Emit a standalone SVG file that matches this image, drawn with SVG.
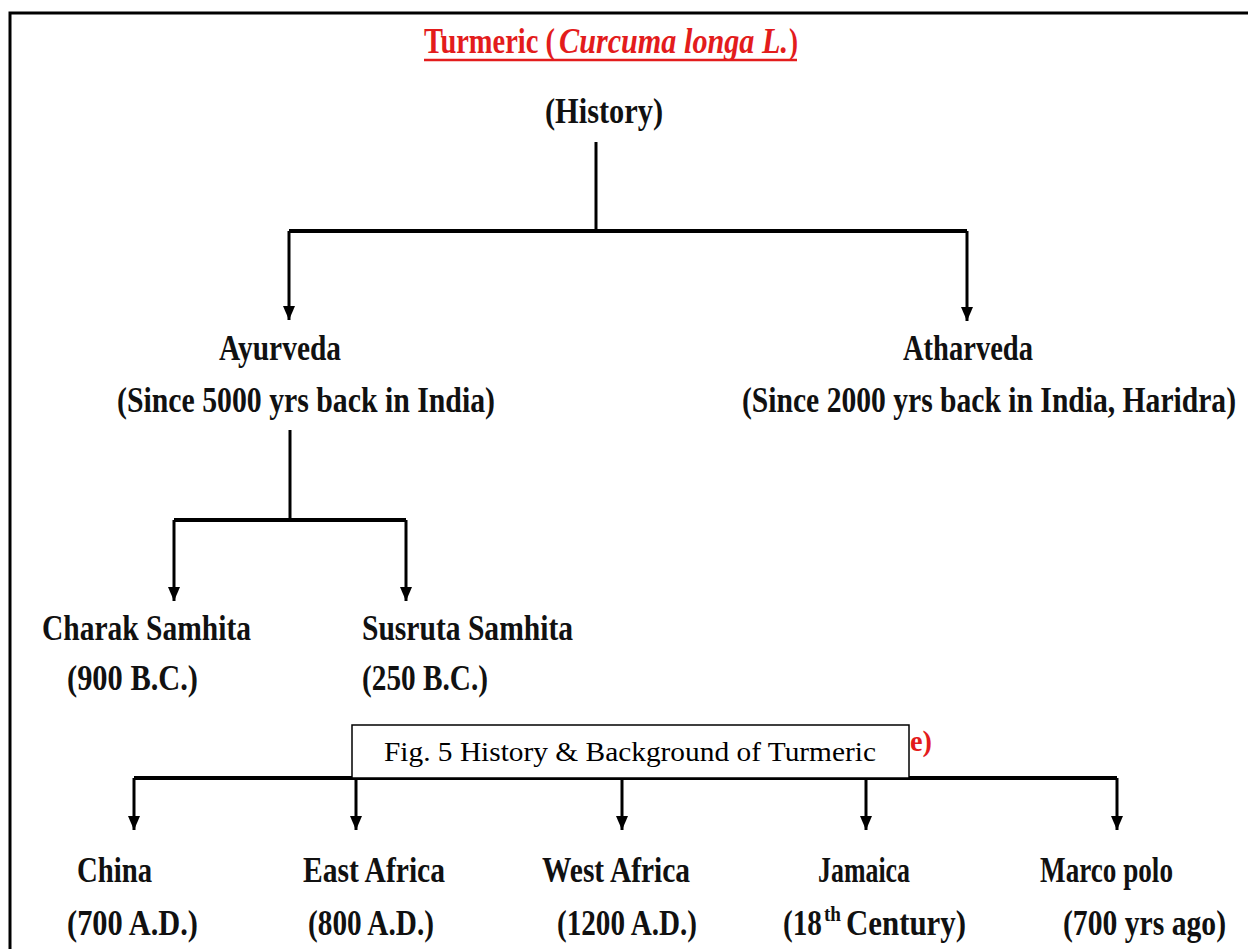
<svg xmlns="http://www.w3.org/2000/svg" width="1248" height="949" viewBox="0 0 1248 949">
<style>
.t{font-family:"Liberation Serif","Times New Roman",serif;font-weight:bold;fill:#111;}
.red{fill:#e31c1c;}
.ln{stroke:#000;stroke-width:3;fill:none;}
.hz{stroke:#000;stroke-width:4;fill:none;}
.cap{font-family:"Liberation Serif","Times New Roman",serif;font-size:27px;fill:#000;}
</style>
<defs>
<marker id="ah" markerUnits="userSpaceOnUse" markerWidth="16" markerHeight="12" refX="14" refY="6" orient="auto">
<path d="M0,0 L14,6 L0,12 z" fill="#000"/>
</marker>
</defs>
<rect width="1248" height="949" fill="#fff"/>
<path d="M10,949 V13 H1248" stroke="#000" stroke-width="3" fill="none"/>

<g id="title">
<text class="t red" x="424" y="53" font-size="35" textLength="131" lengthAdjust="spacingAndGlyphs">Turmeric (</text>
<text class="t red" x="559" y="53" font-size="35" font-style="italic" textLength="229" lengthAdjust="spacingAndGlyphs">Curcuma longa L.</text>
<text class="t red" x="789" y="53" font-size="35" textLength="9" lengthAdjust="spacingAndGlyphs">)</text>
<line x1="424" y1="60" x2="797" y2="60" stroke="#e31c1c" stroke-width="2.5"/>
</g>
<g id="history"><text class="t" x="545" y="123" font-size="35" textLength="118" lengthAdjust="spacingAndGlyphs">(History)</text></g>

<g id="ayurveda">
<text class="t" x="219" y="360" font-size="35" textLength="122" lengthAdjust="spacingAndGlyphs">Ayurveda</text>
<text class="t" x="117" y="412" font-size="35" textLength="378" lengthAdjust="spacingAndGlyphs">(Since 5000 yrs back in India)</text>
</g>
<g id="atharveda">
<text class="t" x="903" y="360" font-size="35" textLength="130" lengthAdjust="spacingAndGlyphs">Atharveda</text>
<text class="t" x="742" y="412" font-size="35" textLength="494" lengthAdjust="spacingAndGlyphs">(Since 2000 yrs back in India, Haridra)</text>
</g>
<g id="charak">
<text class="t" x="42" y="640" font-size="35" textLength="209" lengthAdjust="spacingAndGlyphs">Charak Samhita</text>
<text class="t" x="67" y="690" font-size="35" textLength="131" lengthAdjust="spacingAndGlyphs">(900 B.C.)</text>
</g>
<g id="susruta">
<text class="t" x="362" y="640" font-size="35" textLength="211" lengthAdjust="spacingAndGlyphs">Susruta Samhita</text>
<text class="t" x="362" y="690" font-size="35" textLength="126" lengthAdjust="spacingAndGlyphs">(250 B.C.)</text>
</g>

<g id="connectors">
<path class="ln" d="M596,142 V231"/>
<path class="hz" d="M289,231 H967"/>
<path class="ln" d="M289,231 V320" marker-end="url(#ah)"/>
<path class="ln" d="M967,231 V321" marker-end="url(#ah)"/>
<path class="ln" d="M290,430 V520"/>
<path class="hz" d="M174,520 H406"/>
<path class="ln" d="M174,520 V601" marker-end="url(#ah)"/>
<path class="ln" d="M406,520 V601" marker-end="url(#ah)"/>
<path class="hz" d="M134,778 H1117"/>
<path class="ln" d="M134,778 V830" marker-end="url(#ah)"/>
<path class="ln" d="M356,778 V830" marker-end="url(#ah)"/>
<path class="ln" d="M622,778 V830" marker-end="url(#ah)"/>
<path class="ln" d="M866,778 V830" marker-end="url(#ah)"/>
<path class="ln" d="M1117,778 V830" marker-end="url(#ah)"/>
</g>

<g id="red-partial"><text class="t red" x="910" y="751" font-size="30" textLength="22" lengthAdjust="spacingAndGlyphs">e)</text></g>
<g id="caption">
<rect x="352" y="725" width="557" height="53" fill="#fff" stroke="#000" stroke-width="1.5"/>
<text class="cap" x="384" y="761" textLength="492" lengthAdjust="spacingAndGlyphs">Fig. 5 History &amp; Background of Turmeric</text>
</g>

<g id="china">
<text class="t" x="77" y="882" font-size="36" textLength="75" lengthAdjust="spacingAndGlyphs">China</text>
<text class="t" x="67" y="935" font-size="36" textLength="131" lengthAdjust="spacingAndGlyphs">(700 A.D.)</text>
</g>
<g id="eastafrica">
<text class="t" x="303" y="882" font-size="36" textLength="142" lengthAdjust="spacingAndGlyphs">East Africa</text>
<text class="t" x="308" y="935" font-size="36" textLength="126" lengthAdjust="spacingAndGlyphs">(800 A.D.)</text>
</g>
<g id="westafrica">
<text class="t" x="542" y="882" font-size="36" textLength="148" lengthAdjust="spacingAndGlyphs">West Africa</text>
<text class="t" x="557" y="935" font-size="36" textLength="140" lengthAdjust="spacingAndGlyphs">(1200 A.D.)</text>
</g>
<g id="jamaica">
<text class="t" x="818" y="882" font-size="36" textLength="92" lengthAdjust="spacingAndGlyphs">Jamaica</text>
<text class="t" x="783" y="935" font-size="36" textLength="39" lengthAdjust="spacingAndGlyphs">(18</text>
<text class="t" x="824" y="921" font-size="20" textLength="17" lengthAdjust="spacingAndGlyphs">th</text>
<text class="t" x="846" y="935" font-size="36" textLength="120" lengthAdjust="spacingAndGlyphs">Century)</text>
</g>
<g id="marcopolo">
<text class="t" x="1040" y="882" font-size="36" textLength="133" lengthAdjust="spacingAndGlyphs">Marco polo</text>
<text class="t" x="1063" y="935" font-size="36" textLength="163" lengthAdjust="spacingAndGlyphs">(700 yrs ago)</text>
</g>
</svg>
